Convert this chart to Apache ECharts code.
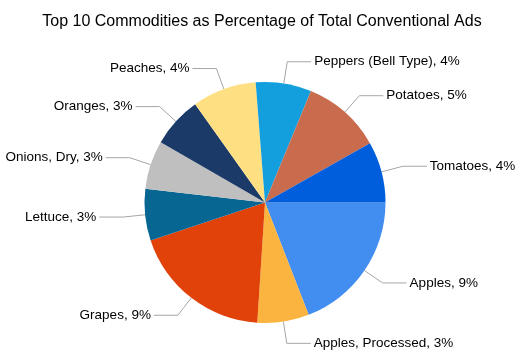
<!DOCTYPE html>
<html>
<head>
<meta charset="utf-8">
<script src="https://cdn.jsdelivr.net/npm/echarts@6/dist/echarts.min.js"></script>
<style>html,body{margin:0;padding:0;background:#fff}#c{width:524px;height:363px}</style>
</head>
<body>
<div id="c"></div>
<script>
const titleText = 'Top 10 Commodities as Percentage of Total Conventional Ads';
const categories = ['Apples', 'Apples, Processed', 'Grapes', 'Lettuce', 'Onions, Dry', 'Oranges', 'Peaches', 'Peppers (Bell Type)', 'Potatoes', 'Tomatoes'];
const values = [9.1, 3.3, 9.0, 3.3, 3.1, 3.25, 4.1, 3.55, 5.05, 3.9];
const colors = ['#428EF0', '#FBB43F', '#E0420A', '#086692', '#BFBFBF', '#1B3A68', '#FEE082', '#139EDE', '#C96B4D', '#005DDB'];

const chart = echarts.init(document.getElementById('c'));
chart.setOption({
  animation: false,
  title: {
    text: titleText, left: 'center', top: 9,
    textStyle: { fontFamily: 'Liberation Sans, Arial', fontSize: 16, fontWeight: 'normal', color: '#000' }
  },
  series: [{
    type: 'pie',
    center: [265, 202.5],
    radius: [0, 120.5],
    startAngle: 0,
    clockwise: true,
    avoidLabelOverlap: false,
    data: categories.map((c, i) => ({ name: c, value: values[i], itemStyle: { color: colors[i] } })),
    itemStyle: { borderWidth: 0 },
    label: {
      formatter: p => p.name + ', ' + Math.round(p.value) + '%',
      fontFamily: 'Liberation Sans, Arial', fontSize: 13.5, color: '#000',
      distanceToLabelLine: 3
    },
    labelLine: { length: 22, length2: 24, lineStyle: { color: '#A6A6A6', width: 1 } }
  }]
});
</script>
</body>
</html>
